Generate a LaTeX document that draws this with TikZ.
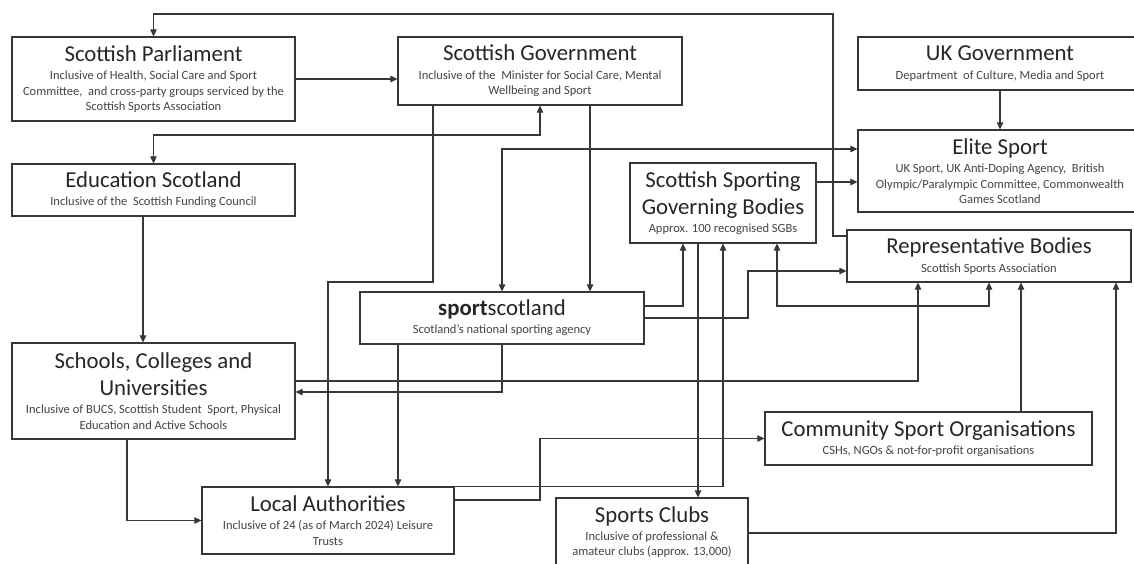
\documentclass[tikz,border=0pt]{standalone}
\usepackage{fontspec}
\setmainfont{Carlito}
\usetikzlibrary{arrows.meta}
\definecolor{inkline}{RGB}{55,55,55}
\definecolor{inktitle}{RGB}{38,38,38}
\definecolor{inknote}{RGB}{68,68,68}
\newcommand{\boxnote}[1]{\par\vspace{2pt}{\fontsize{8.9}{11}\selectfont\color{inknote}#1\par}}

\begin{document}
\begin{tikzpicture}[
      every node/.style={font={\fontsize{16.2}{19.1}\selectfont}, text=inktitle},
      orgbox/.style={rectangle, draw=inkline, line width=0.8pt, fill=white, align=flush center, inner xsep=0pt, inner ysep=2pt},
      flow/.style={draw=inkline, line width=0.8pt, ->, >={Triangle[length=5pt,width=4.6pt]}},
      twoway/.style={flow, <->}
  ]
    \useasboundingbox (0,0) rectangle (28.35,-14.075);

    \node[orgbox, text width=7.075cm, minimum height=2.1cm] (parl) at (3.8375,-1.975) {Scottish Parliament\boxnote{Inclusive of Health, Social Care and Sport\par Committee, \ and cross-party groups serviced by the\par Scottish Sports Association}};
    \node[orgbox, text width=7.075cm, minimum height=1.3cm] (edu) at (3.8375,-4.75) {Education Scotland\boxnote{Inclusive of the \ Scottish Funding Council}};
    \node[orgbox, text width=7.1cm, minimum height=1.7cm] (govt) at (13.5,-1.775) {Scottish Government\boxnote{Inclusive of the \ Minister for Social Care, Mental\par Wellbeing and Sport}};
    \node[orgbox, text width=7.1cm, minimum height=1.325cm] (ukgov) at (25,-1.5875) {UK Government\boxnote{Department \ of Culture, Media and Sport}};
    \node[orgbox, text width=7.1cm, minimum height=2.05cm] (elite) at (25,-4.275) {Elite Sport\boxnote{UK Sport, UK Anti-Doping Agency, \ British\par Olympic/Paralympic Committee, Commonwealth\par Games Scotland}};
    \node[orgbox, text width=4.65cm, minimum height=2.0cm] (ssgb) at (18.075,-5.075) {Scottish Sporting\par Governing Bodies\boxnote{Approx. 100 recognised SGBs}};
    \node[orgbox, text width=7.1cm, minimum height=1.3cm] (rep) at (24.725,-6.4) {Representative Bodies\boxnote{Scottish Sports Association}};
    \node[orgbox, text width=7.1cm, minimum height=1.3cm] (spsc) at (12.55,-7.95) {{\bfseries sport}scotland\boxnote{Scotland’s national sporting agency}};
    \node[orgbox, text width=7.075cm, minimum height=2.4cm] (schools) at (3.8375,-9.775) {Schools, Colleges and\par Universities\boxnote{Inclusive of BUCS, Scottish Student \ Sport, Physical\par Education and Active Schools}};
    \node[orgbox, text width=6.3cm, minimum height=1.675cm] (la) at (8.2,-13.0125) {Local Authorities\boxnote{Inclusive of 24 (as of March 2024) Leisure\par Trusts}};
    \node[orgbox, text width=4.8cm, minimum height=1.7cm] (clubs) at (16.3,-13.3) {Sports Clubs\boxnote{Inclusive of professional \&\par amateur clubs (approx. 13,000)}};
    \node[orgbox, text width=8.175cm, minimum height=1.325cm] (cso) at (23.2125,-10.9625) {Community Sport Organisations\boxnote{CSHs, NGOs \& not-for-profit organisations}};

    % government and parliament
    \draw[flow] (rep.west |- 0,-5.9) -| (20.825,-0.35) -| (parl.north);
    \draw[flow] (parl.east) -- (parl.east -| govt.west);
    \draw[twoway] (edu.north) |- (3.8375,-3.375) -| (govt.south);
    \draw[flow] (govt.south -| 10.825,0) |- (8.2,-7.05) -- (la.north);
    \draw[flow] (govt.south -| 14.75,0) -- (spsc.north -| 14.75,0);
    \draw[flow] (ukgov.south) -- (elite.north);

    % sportscotland
    \draw[twoway] (spsc.north) |- (elite.west |- 0,-3.725);
    \draw[flow] (spsc.south -| 9.95,0) -- (la.north -| 9.95,0);
    \draw[flow] (spsc.south) |- (schools.east |- 0,-9.8);
    \draw[flow] (spsc.east |- 0,-7.65) -| (ssgb.south -| 17.075,0);
    \draw[flow] (spsc.east) -| (18.7,-6.775) -- (rep.west |- 0,-6.775);

    % governing bodies
    \draw[flow] (ssgb.east |- 0,-4.55) -- (elite.west |- 0,-4.55);
    \draw[flow] (ssgb.south -| 17.45,0) -- (clubs.north -| 17.45,0);
    \draw[twoway] (ssgb.south -| 19.425,0) |- (24.725,-7.65) -- (rep.south);

    % education and local
    \draw[flow] (edu.south -| 3.575,0) -- (schools.north -| 3.575,0);
    \draw[flow] (schools.south -| 3.175,0) |- (la.west);
    \draw[flow] (schools.east |- 0,-9.525) -| (rep.south -| 22.95,0);
    \draw[flow] (la.north east) -| (ssgb.south);
    \draw[flow] (la.east |- 0,-12.5) -| (13.5,-10.9625) -- (cso.west);
    \draw[flow] (cso.north -| 25.525,0) -- (rep.south -| 25.525,0);
    \draw[flow] (clubs.east |- 0,-13.325) -| (rep.south -| 27.9,0);
  \end{tikzpicture}
\end{document}
